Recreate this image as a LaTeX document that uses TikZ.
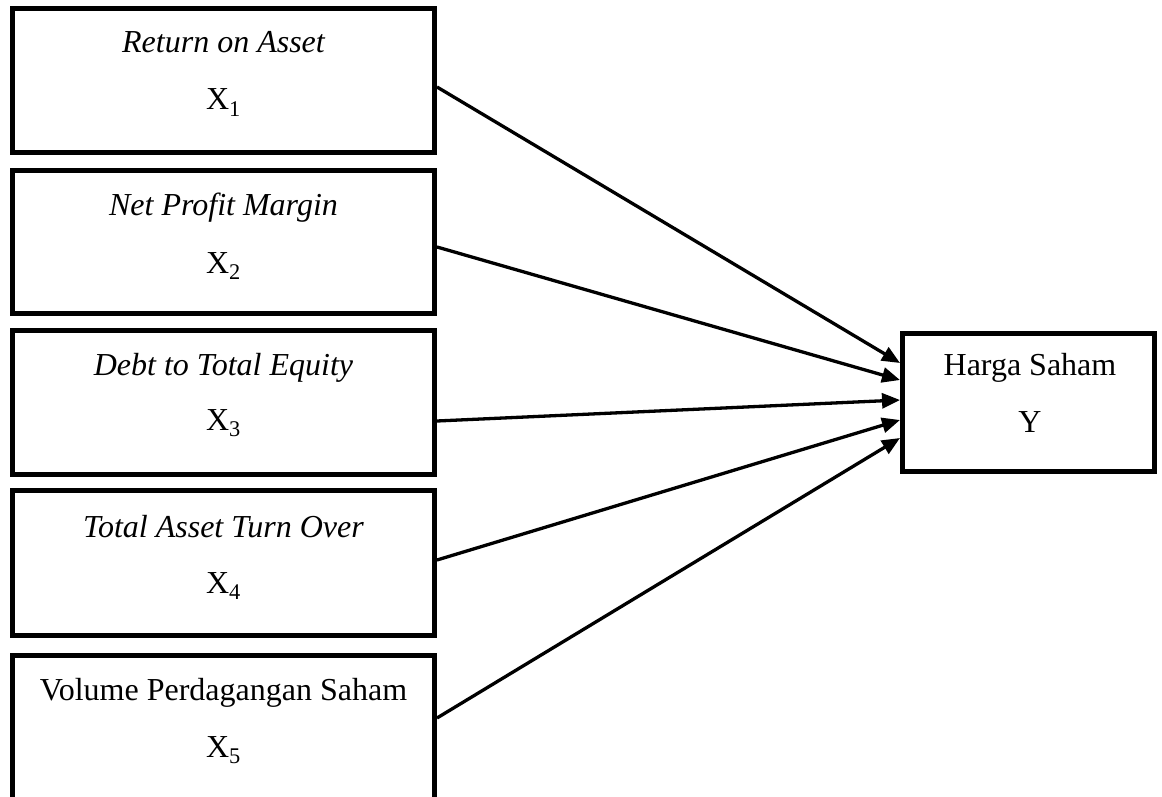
\documentclass[tikz,border=0pt]{standalone}
\usepackage{fontspec}
\setmainfont{Liberation Serif}
\usetikzlibrary{arrows.meta}
\tikzset{
  box/.style={draw=black, line width=5pt, rectangle, inner sep=0pt, fill=none},
  lbl/.style={anchor=base, inner sep=0pt, font=\fontsize{32}{38}\selectfont},
  arr/.style={line width=3.3pt, -{Triangle[length=18pt,width=15pt]}}
}
\begin{document}
\begin{tikzpicture}[x=1pt,y=-1pt]
\useasboundingbox (0,0) rectangle (1162,797);
\clip (0,0) rectangle (1162,797);
% boxes
\node[box, minimum width=422pt, minimum height=144pt] (b1) at (223.5,80.5) {};
\node[box, minimum width=422pt, minimum height=143pt] (b2) at (223.5,242) {};
\node[box, minimum width=422pt, minimum height=144pt] (b3) at (223.5,402.5) {};
\node[box, minimum width=422pt, minimum height=145pt] (b4) at (223.5,563) {};
\node[box, minimum width=422pt, minimum height=144pt] (b5) at (223.5,727.5) {};
\node[box, minimum width=252pt, minimum height=138pt] (y) at (1028.5,402.5) {};
% texts
\node[lbl] (t1) at (223.5,53) {\itshape Return on Asset};
\node[lbl] (s1) at (223.5,110) {X\textsubscript{1}};
\node[lbl] (t2) at (223.5,215) {\itshape Net Profit Margin};
\node[lbl] (s2) at (223.5,273) {X\textsubscript{2}};
\node[lbl] (t3) at (223.5,375) {\itshape Debt to Total Equity};
\node[lbl] (s3) at (223.5,430) {X\textsubscript{3}};
\node[lbl] (t4) at (223.5,537) {\itshape Total Asset Turn Over};
\node[lbl] (s4) at (223.5,593) {X\textsubscript{4}};
\node[lbl] (t5) at (223.5,700) {Volume Perdagangan Saham};
\node[lbl] (s5) at (223.5,757) {X\textsubscript{5}};
\node[lbl] (ty) at (1030,375) {Harga Saham};
\node[lbl] (sy) at (1030,432) {Y};
% arrows
\draw[arr] ([yshift=-6.5pt]b1.east) -- ([yshift=39.5pt]y.west);
\draw[arr] ([yshift=-5pt]b2.east) -- ([yshift=22.5pt]y.west);
\draw[arr] ([yshift=-18.5pt]b3.east) -- ([yshift=2.5pt]y.west);
\draw[arr] ([yshift=3pt]b4.east) -- ([yshift=-17.5pt]y.west);
\draw[arr] ([yshift=9.5pt]b5.east) -- ([yshift=-35.5pt]y.west);
\end{tikzpicture}
\end{document}
